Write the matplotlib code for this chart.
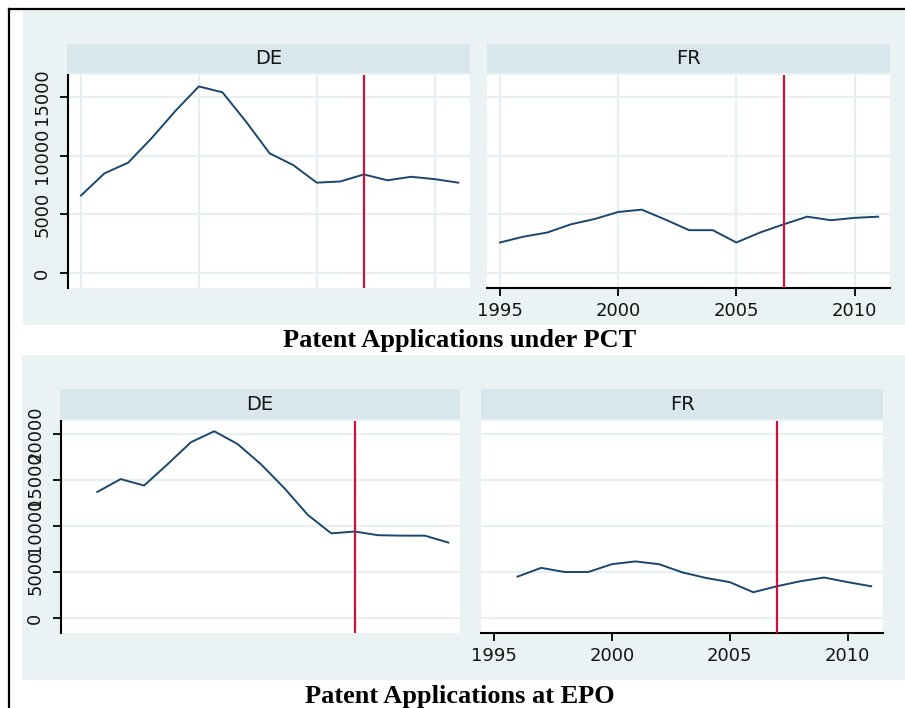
import matplotlib
matplotlib.use("Agg")
import matplotlib.pyplot as plt
from matplotlib.patches import Rectangle
from matplotlib.lines import Line2D

# ---------------- data ----------------
years = [1995, 1996, 1997, 1998, 1999, 2000, 2001, 2002, 2003,
         2004, 2005, 2006, 2007, 2008, 2009, 2010, 2011]
pct_de = [6600, 8500, 9400, 11500, 13800, 15900, 15400, 12900, 10200,
          9200, 7700, 7800, 8400, 7900, 8200, 8000, 7700]
pct_fr = [2600, 3100, 3450, 4150, 4600, 5200, 5400, 4550, 3650,
          3650, 2600, 3450, 4150, 4800, 4500, 4700, 4800]

years_epo = [1996, 1997, 1998, 1999, 2000, 2001, 2002, 2003,
             2004, 2005, 2006, 2007, 2008, 2009, 2010, 2011]
epo_de = [13700, 15100, 14400, 16700, 19100, 20300, 18900, 16700,
          14100, 11200, 9200, 9400, 9000, 8950, 8950, 8200]
epo_fr = [4500, 5450, 5000, 5000, 5850, 6150, 5850, 4950,
          4350, 3900, 2800, 3450, 4000, 4400, 3900, 3450]

panel_labels = ["DE", "FR"]
pct_yticks = [0, 5000, 10000, 15000]
epo_yticks = [0, 5000, 10000, 15000, 20000]
xticks = [1995, 2000, 2005, 2010]
event_year = 2007
titles = ["Patent Applications under PCT", "Patent Applications at EPO"]

# ---------------- style ----------------
W, H = 905, 708
BG = "#EAF2F3"
STRIP = "#D9E6EB"
GRID = "#E8EFF2"
LINE = "#1A476F"
RED = "#D0103A"
TXT = "#141414"

fig = plt.figure(figsize=(W / 100, H / 100), dpi=100)
fig.patch.set_facecolor("white")


def rect(x0, y0, x1, y1):
    return [x0 / W, 1 - y1 / H, (x1 - x0) / W, (y1 - y0) / H]


def fig_rect(x0, y0, x1, y1, color):
    r = Rectangle((x0 / W, 1 - y1 / H), (x1 - x0) / W, (y1 - y0) / H,
                  transform=fig.transFigure, facecolor=color,
                  edgecolor="none", zorder=-10)
    fig.patches.append(r)


# outer backgrounds
fig_rect(23, 10, 905, 325, BG)
fig_rect(22, 355, 905, 680, BG)

# black border (left and top)
fig.add_artist(Line2D([9 / W, 9 / W], [1 - 9 / H, 0], transform=fig.transFigure,
                      color="black", lw=1.6))
fig.add_artist(Line2D([9 / W, 1], [1 - 9 / H, 1 - 9 / H], transform=fig.transFigure,
                      color="black", lw=1.6))

XLIM = (1994.45, 2011.5)


def panel(plot_box, strip_box, label, xs, ys, ylim, yticks, left, bottom, vgrid):
    sa = fig.add_axes(rect(*strip_box))
    sa.set_facecolor(STRIP)
    sa.set_xticks([])
    sa.set_yticks([])
    for s in sa.spines.values():
        s.set_visible(False)
    sa.text(0.5, 0.5, label, ha="center", va="center", fontsize=14,
            color=TXT, transform=sa.transAxes)

    ax = fig.add_axes(rect(*plot_box))
    ax.set_facecolor("white")
    ax.set_xlim(*XLIM)
    ax.set_ylim(*ylim)
    ax.set_yticks(yticks)
    ax.set_xticks(xticks)
    for g in yticks:
        ax.axhline(g, color=GRID, lw=1.6, zorder=0)
    if vgrid:
        for g in xticks:
            ax.axvline(g, color=GRID, lw=1.6, zorder=0)
    ax.plot(xs, ys, color=LINE, lw=1.4, zorder=3)
    ax.axvline(event_year, color=RED, lw=1.6, zorder=4)
    for s in ["top", "right"]:
        ax.spines[s].set_visible(False)
    ax.spines["left"].set_visible(left)
    ax.spines["bottom"].set_visible(bottom)
    ax.spines["left"].set_linewidth(1.5)
    ax.spines["bottom"].set_linewidth(1.5)
    ax.tick_params(axis="y", left=left, labelleft=left, length=6, width=1.3,
                   pad=6, labelsize=13, labelcolor=TXT)
    ax.tick_params(axis="x", bottom=bottom, labelbottom=bottom, length=6,
                   width=1.3, pad=4, labelsize=13, labelcolor=TXT)
    if left:
        ax.set_yticklabels([str(t) for t in yticks], rotation=90, va="center")
    return ax


PCT_YLIM = (-1278, 16874)
EPO_YLIM = (-1630, 21413)

panel((68, 75, 470, 288), (67, 44, 470, 73), panel_labels[0], years, pct_de,
      PCT_YLIM, pct_yticks, True, False, True)
panel((487, 75, 890, 288), (487, 44, 890, 73), panel_labels[1], years, pct_fr,
      PCT_YLIM, pct_yticks, False, True, True)
panel((61, 421, 460, 633), (60, 389, 460, 419), panel_labels[0], years_epo, epo_de,
      EPO_YLIM, epo_yticks, True, False, False)
panel((481, 421, 883, 633), (481, 389, 883, 419), panel_labels[1], years_epo, epo_fr,
      EPO_YLIM, epo_yticks, False, True, False)

fig.text(460 / W, 1 - 340 / H, titles[0], ha="center", va="center",
         fontsize=19, fontweight="bold", family="Liberation Serif", color="black")
fig.text(460 / W, 1 - 696 / H, titles[1], ha="center", va="center",
         fontsize=19, fontweight="bold", family="Liberation Serif", color="black")

fig.savefig("out.png", dpi=100, facecolor="white")
